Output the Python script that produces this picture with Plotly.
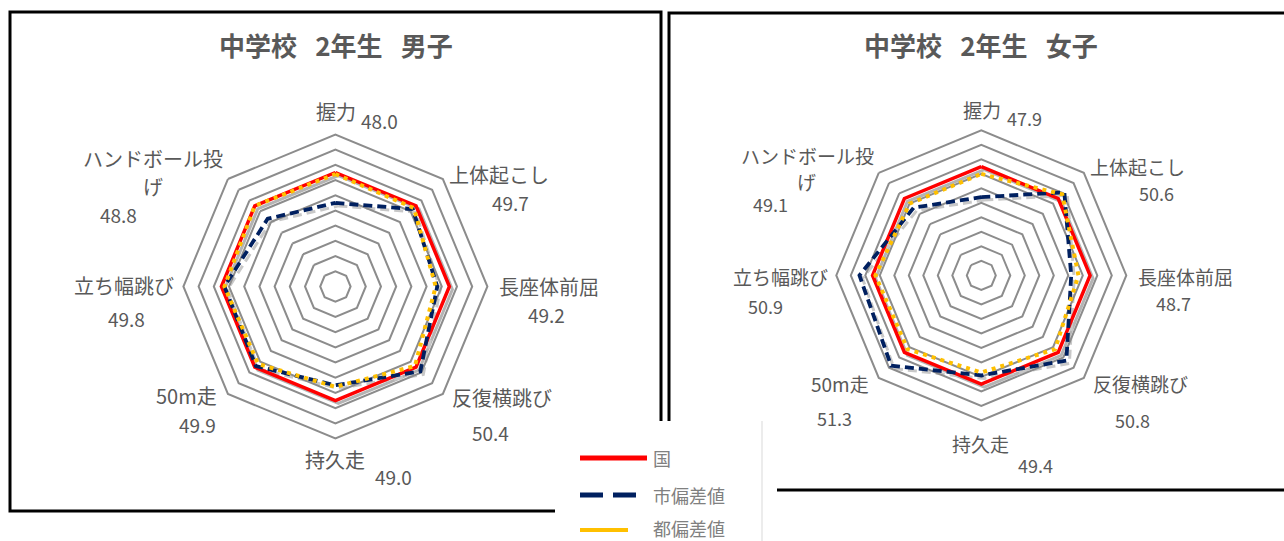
import plotly.graph_objects as go

# ---------------- data ----------------
categories = ["握力", "上体起こし", "長座体前屈", "反復横跳び", "持久走", "50m走", "立ち幅跳び", "ハンドボール投げ"]
# how each category label is wrapped on the chart (lines)
category_lines = [["握力"], ["上体起こし"], ["長座体前屈"], ["反復横跳び"], ["持久走"], ["50m走"], ["立ち幅跳び"],
                  ["ハンドボール投", "げ"]]

series_names = ["国", "市偏差値", "都偏差値"]

male_nation = [50.0, 50.0, 50.0, 50.0, 50.0, 50.0, 50.0, 50.0]
male_city = [48.0, 49.7, 49.2, 50.4, 49.0, 49.9, 49.8, 48.8]
male_tokyo = [49.9, 49.8, 49.1, 49.9, 49.1, 49.7, 49.8, 50.0]

female_nation = [50.0, 50.0, 50.0, 50.0, 50.0, 50.0, 50.0, 50.0]
female_city = [47.9, 50.6, 48.7, 50.8, 49.4, 51.3, 50.9, 49.1]
female_tokyo = [49.5, 50.4, 49.2, 49.7, 49.2, 49.7, 49.8, 49.5]

titles = ["中学校\u2002\u20092年生\u2002\u2009男子", "中学校\u2002\u20092年生\u2002\u2009女子"]

radial_range = [42.5, 52.5]
ring_values = [43.5, 44.5, 45.5, 46.5, 47.5, 48.5, 49.5, 50.5, 51.5]

# ---------------- layout helpers ----------------
W, H = 1284, 541


def px(x):
    return x / W


def py(y):
    return 1 - y / H


FONT = "Noto Sans CJK JP"
GRID = "#8c8c8c"
TEXT = "#595959"
RED = "#ff0000"
NAVY = "#002060"
GOLD = "#ffc000"
SHADOW = "#b4b4b4"

panels = [
    dict(nation=male_nation, city=male_city, tokyo=male_tokyo, title=titles[0],
         cx=335.4, cy=286.5, R=152, fs=20, title_pos=(336, 44),
         cat_pos=[[(336, 112)], [(499, 174)], [(549, 286)], [(502, 397)], [(335, 459)], [(187, 395)],
                  [(124, 285)], [(153, 159), (153, 187)]],
         val_pos=[(380, 120), (510, 202), (546, 314), (490, 432), (393, 476), (197, 424), (126, 318), (118, 214)]),
    dict(nation=female_nation, city=female_city, tokyo=female_tokyo, title=titles[1],
         cx=981.3, cy=275.4, R=145, fs=19, title_pos=(981, 44),
         cat_pos=[[(982, 109)], [(1137, 166)], [(1185, 276)], [(1140, 383)], [(981, 443)], [(840, 383)],
                  [(780, 276)], [(807, 155), (806, 181)]],
         val_pos=[(1024, 118), (1156, 193), (1173, 303), (1132, 420), (1035, 465), (834, 418), (765, 306), (770, 204)]),
]


def closed(v):
    return list(v) + [v[0]]


theta_closed = closed(categories)

fig = go.Figure()
layout_polars = {}
annotations = []

for i, p in enumerate(panels):
    shadow_id = "polar" if i == 0 else f"polar{2 * i + 1}"
    main_id = f"polar{2 * i + 2}"
    cx, cy, R = p["cx"], p["cy"], p["R"]
    dom_main = dict(x=[px(cx - R), px(cx + R)], y=[py(cy + R), py(cy - R)])
    off = 3
    dom_shadow = dict(x=[px(cx - R + off), px(cx + R + off)], y=[py(cy + R + off), py(cy - R + off)])

    common_ang = dict(rotation=90, direction="clockwise", showticklabels=False, ticks="",
                      showgrid=False, categoryorder="array", categoryarray=categories)

    layout_polars[shadow_id] = dict(
        domain=dom_shadow, bgcolor="rgba(0,0,0,0)", gridshape="linear",
        radialaxis=dict(range=radial_range, showgrid=False, showline=False, showticklabels=False, ticks=""),
        angularaxis=dict(showline=False, **common_ang),
    )
    layout_polars[main_id] = dict(
        domain=dom_main, bgcolor="rgba(0,0,0,0)", gridshape="linear",
        radialaxis=dict(range=radial_range, tickvals=ring_values, showticklabels=False, ticks="",
                        showline=False, gridcolor=GRID, gridwidth=2),
        angularaxis=dict(showline=True, linecolor=GRID, linewidth=2, **common_ang),
    )

    # shadows
    fig.add_trace(go.Scatterpolar(r=closed(p["nation"]), theta=theta_closed, mode="lines",
                                  line=dict(color=SHADOW, width=3), subplot=shadow_id,
                                  hoverinfo="skip", showlegend=False))
    fig.add_trace(go.Scatterpolar(r=closed(p["city"]), theta=theta_closed, mode="lines",
                                  line=dict(color="#c8c8c8", width=3, dash="9px,5px"), subplot=shadow_id,
                                  hoverinfo="skip", showlegend=False))
    # main series
    fig.add_trace(go.Scatterpolar(r=closed(p["nation"]), theta=theta_closed, mode="lines",
                                  name=series_names[0], line=dict(color=RED, width=3.5),
                                  subplot=main_id, showlegend=False))
    fig.add_trace(go.Scatterpolar(r=closed(p["city"]), theta=theta_closed, mode="lines",
                                  name=series_names[1], line=dict(color=NAVY, width=3.8, dash="9px,5px"),
                                  subplot=main_id, showlegend=False))
    fig.add_trace(go.Scatterpolar(r=closed(p["tokyo"]), theta=theta_closed, mode="lines",
                                  name=series_names[2], line=dict(color=GOLD, width=4, dash="4px,5px"),
                                  subplot=main_id, showlegend=False))

    # title
    tx, ty = p["title_pos"]
    annotations.append(dict(text=f"<b>{p['title']}</b>", x=px(tx), y=py(ty), xref="paper", yref="paper",
                            xanchor="center", yanchor="middle", showarrow=False,
                            font=dict(family=FONT, size=26, color=TEXT)))
    # category labels and values
    for k in range(len(categories)):
        for line_text, (lx, ly) in zip(category_lines[k], p["cat_pos"][k]):
            annotations.append(dict(text=line_text, x=px(lx), y=py(ly), xref="paper", yref="paper",
                                    xanchor="center", yanchor="middle", showarrow=False,
                                    font=dict(family=FONT, size=p["fs"], color=TEXT)))
        vx, vy = p["val_pos"][k]
        annotations.append(dict(text=f"{p['city'][k]:.1f}", x=px(vx), y=py(vy), xref="paper", yref="paper",
                                xanchor="center", yanchor="middle", showarrow=False,
                                font=dict(family=FONT, size=p["fs"] - 1, color=TEXT)))

# ---------------- frames & legend box ----------------
shapes = [
    dict(type="rect", xref="paper", yref="paper", x0=px(10), x1=px(661), y0=py(511), y1=py(12),
         line=dict(color="black", width=3), fillcolor="rgba(0,0,0,0)", layer="above"),
    dict(type="rect", xref="paper", yref="paper", x0=px(669), x1=px(1295), y0=py(490), y1=py(13),
         line=dict(color="black", width=3), fillcolor="rgba(0,0,0,0)", layer="above"),
    dict(type="rect", xref="paper", yref="paper", x0=px(555), x1=px(777), y0=py(548), y1=py(421),
         line=dict(width=0), fillcolor="white", layer="above"),
    dict(type="line", xref="paper", yref="paper", x0=px(762), x1=px(762), y0=py(541), y1=py(421),
         line=dict(color="#ececec", width=2), layer="above"),
    dict(type="line", xref="paper", yref="paper", x0=px(580), x1=px(647), y0=py(458), y1=py(458),
         line=dict(color=RED, width=5), layer="above"),
    dict(type="line", xref="paper", yref="paper", x0=px(580), x1=px(638), y0=py(495), y1=py(495),
         line=dict(color=NAVY, width=5, dash="23px,10px"), layer="above"),
    dict(type="line", xref="paper", yref="paper", x0=px(580), x1=px(628), y0=py(530), y1=py(530),
         line=dict(color=GOLD, width=4), layer="above"),
]

legend_y = [458, 495, 528]
for name, ly in zip(series_names, legend_y):
    annotations.append(dict(text=name, x=px(651), y=py(ly), xref="paper", yref="paper",
                            xanchor="left", yanchor="middle", showarrow=False,
                            font=dict(family=FONT, size=18, color="#808080")))

fig.update_layout(
    width=W, height=H, margin=dict(l=0, r=0, t=0, b=0),
    paper_bgcolor="white", plot_bgcolor="white", showlegend=False,
    annotations=annotations, shapes=shapes, **layout_polars,
)

fig.write_html("out.html")
